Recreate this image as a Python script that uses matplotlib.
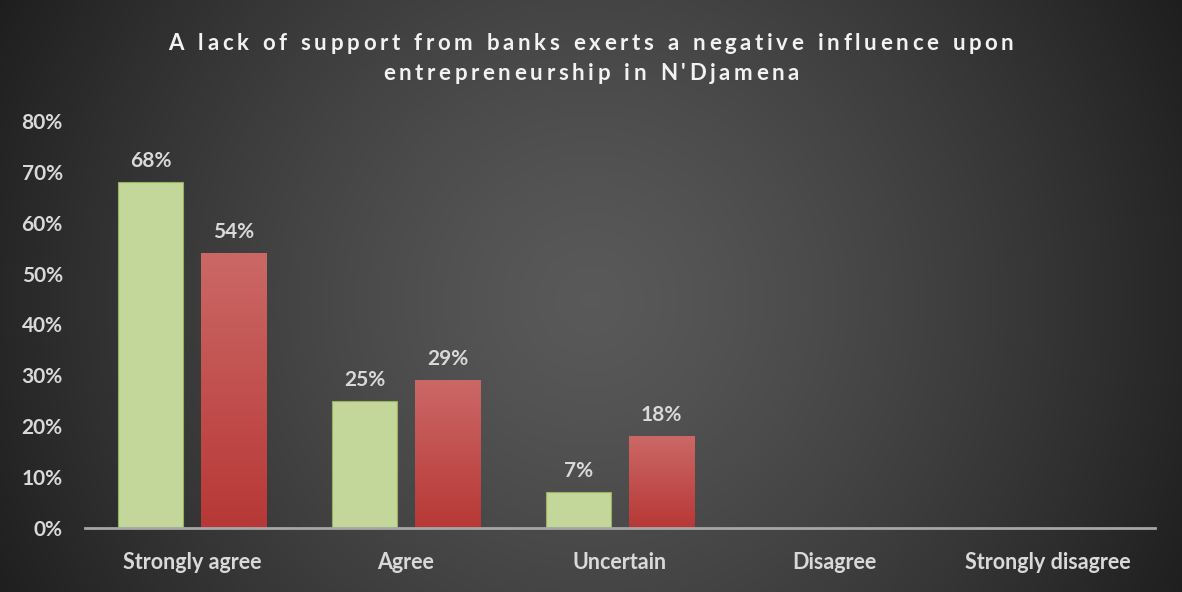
import numpy as np
import matplotlib.pyplot as plt
from matplotlib.patches import Rectangle
from matplotlib.ticker import PercentFormatter

categories = ['Strongly agree', 'Agree', 'Uncertain', 'Disagree', 'Strongly disagree']
series_a = [0.68, 0.25, 0.07, 0.0, 0.0]
series_b = [0.54, 0.29, 0.18, 0.0, 0.0]
title_lines = ["A lack of support from banks exerts a negative influence upon",
               "entrepreneurship in N'Djamena"]

plt.rcParams['font.family'] = ['Lato', 'DejaVu Sans']
txt = '#d9d9d9'

fig = plt.figure(figsize=(11.82, 5.92), dpi=100)

# radial background
bg = fig.add_axes([0, 0, 1, 1])
h, w = 592, 1182
yy, xx = np.mgrid[0:h, 0:w]
r = np.hypot((xx - 590) / 660.0, (yy - 300) / 660.0)
shade = 0.35 - 0.23 * np.clip(r, 0, 1) ** 1.3
bg.imshow(np.dstack([shade] * 3), aspect='auto', extent=[0, 1, 0, 1], zorder=0)
bg.set_xlim(0, 1)
bg.set_ylim(0, 1)
bg.axis('off')

ax = fig.add_axes([85 / w, 1 - 528 / h, (1155 - 85) / w, (528 - 121) / h])
ax.patch.set_alpha(0)
x = np.arange(len(categories))
bw = 0.305
off = 0.194

# red vertical gradient used inside the second series
grad = np.linspace(0, 1, 256)[:, None]
top = np.array([0xcb, 0x68, 0x66]) / 255
bot = np.array([0xb7, 0x38, 0x36]) / 255
red_img = (bot + (top - bot) * grad[..., None]) * np.ones((1, 2, 1))

for xi, va, vb in zip(x, series_a, series_b):
    if va > 0:
        ax.add_patch(Rectangle((xi - off - bw / 2 + 0.006, -0.004), bw, va,
                               color='black', alpha=0.25, lw=0, zorder=1))
        ax.bar(xi - off, va, bw, color='#c4d79b', edgecolor='#98b060', lw=0.8, zorder=2)
        ax.text(xi - off, va + 0.022, f'{va:.0%}', ha='center', va='bottom',
                color=txt, fontsize=15, fontweight='bold')
    if vb > 0:
        ax.add_patch(Rectangle((xi + off - bw / 2 + 0.006, -0.004), bw, vb,
                               color='black', alpha=0.25, lw=0, zorder=1))
        im = ax.imshow(red_img, extent=[xi + off - bw / 2, xi + off + bw / 2, 0, vb],
                       origin='lower', aspect='auto', zorder=2)
        rect = Rectangle((xi + off - bw / 2, 0), bw, vb, transform=ax.transData,
                         fc='none', lw=0)
        ax.add_patch(rect)
        im.set_clip_path(rect)
        ax.text(xi + off, vb + 0.022, f'{vb:.0%}', ha='center', va='bottom',
                color=txt, fontsize=15, fontweight='bold')

ax.set_xlim(-0.5, len(categories) - 0.5)
ax.set_ylim(0, 0.8)
ax.set_yticks(np.arange(0, 0.81, 0.1))
ax.yaxis.set_major_formatter(PercentFormatter(1.0, decimals=0))
ax.set_xticks(x)
ax.set_xticklabels(categories)
for sp in ['top', 'right', 'left']:
    ax.spines[sp].set_visible(False)
ax.spines['bottom'].set_color('#a6a6a6')
ax.spines['bottom'].set_linewidth(2)
ax.spines['bottom'].set_zorder(3)
ax.tick_params(length=0)
ax.tick_params(axis='y', pad=16, labelsize=15, labelcolor=txt)
ax.tick_params(axis='x', pad=17, labelsize=15.5, labelcolor=txt)
for lab in ax.get_xticklabels() + ax.get_yticklabels():
    lab.set_fontweight('bold')

# title with widened letter spacing, one glyph at a time
renderer = fig.canvas.get_renderer()


def spaced(line, y, size, spacing):
    widths = []
    for ch in line:
        t = fig.text(0, 0, ch if ch != ' ' else 'n', fontsize=size, fontweight='bold')
        bb = t.get_window_extent(renderer)
        widths.append(bb.width * (0.55 if ch == ' ' else 1.0))
        t.remove()
    total = sum(widths) + spacing * (len(line) - 1)
    cx = w / 2 - total / 2
    for ch, cw in zip(line, widths):
        if ch != ' ':
            fig.text(cx / w, 1 - y / h, ch, fontsize=size, fontweight='bold',
                     color='#f2f2f2', ha='left', va='baseline')
        cx += cw + spacing


spaced(title_lines[0], 50, 16, 3.6)
spaced(title_lines[1], 80, 16, 3.6)

fig.savefig('out.png', dpi=100)
